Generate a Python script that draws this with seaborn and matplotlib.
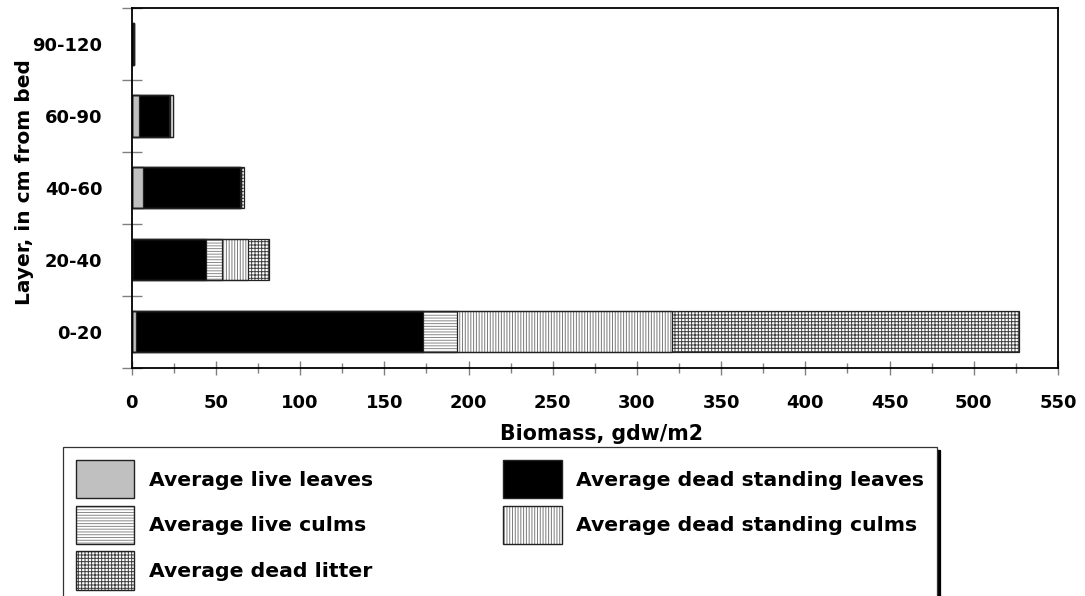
import numpy as np
import pandas as pd
import matplotlib.pyplot as plt
import seaborn as sns
from matplotlib.patches import Patch
from matplotlib.ticker import MultipleLocator, FixedLocator

# values (gdw/m2), top row first
layers = ['90-120', '60-90', '40-60', '20-40', '0-20']
live_leaves = [0.0, 4.3, 6.5, 0.3, 2.4]
dead_leaves = [1.5, 17.8, 57.8, 43.6, 170.3]
live_culms = [0.0, 0.8, 0.3, 9.7, 20.6]
dead_culms = [0.0, 1.8, 0.5, 15.7, 127.7]
dead_litter = [0.0, 0.0, 1.6, 12.2, 206.0]

series = ['Average live leaves', 'Average dead standing leaves',
          'Average live culms', 'Average dead standing culms',
          'Average dead litter']
fills = ['#c0c0c0', 'black', 'white', 'white', 'white']
hatches = [None, None, '------', '||||||', '+++++']
hatch_cols = ['#c0c0c0', 'black', '#8a8a8a', '#7a7a7a', '#404040']
edge_col = '#222222'

sns.set_theme(style='white')
plt.rcParams['font.family'] = ['DejaVu Sans']
plt.rcParams['font.weight'] = 'bold'
plt.rcParams['axes.labelweight'] = 'bold'
plt.rcParams['text.color'] = 'black'
plt.rcParams['axes.labelcolor'] = 'black'
plt.rcParams['hatch.linewidth'] = 0.7

df = pd.DataFrame({'layer': layers})
for name, vals in zip(series, [live_leaves, dead_leaves, live_culms, dead_culms, dead_litter]):
    df[name] = vals
cum = df[series].cumsum(axis=1)

fig = plt.figure(figsize=(10.85, 5.96), dpi=100)
ax = fig.add_axes([0.1214, 0.3826, 0.8537, 0.604])

# stacked bars: draw cumulative totals, biggest first
for i in reversed(range(len(series))):
    sns.barplot(x=cum[series[i]], y=df['layer'], order=layers, orient='h',
                color=fills[i], saturation=1, width=0.57, errorbar=None,
                hatch=hatches[i], edgecolor=hatch_cols[i], linewidth=0, ax=ax)
# outlines
for i in range(len(series)):
    sns.barplot(x=cum[series[i]], y=df['layer'], order=layers, orient='h',
                fill=False, color=edge_col, linewidth=0.9, width=0.57,
                errorbar=None, ax=ax)

ax.set_xlim(0, 550)
ax.set_ylim(4.5, -0.5)
ax.xaxis.set_major_locator(MultipleLocator(50))
ax.xaxis.set_minor_locator(MultipleLocator(25))
ax.yaxis.set_minor_locator(FixedLocator(np.arange(-0.5, 5, 1)))
ax.tick_params(axis='x', which='major', bottom=True, direction='inout', length=10,
               width=1, color='gray', labelcolor='black', pad=14, labelsize=13)
ax.tick_params(axis='x', which='minor', bottom=True, direction='inout', length=7,
               width=1, color='gray')
ax.tick_params(axis='y', which='major', left=True, length=0, pad=21,
               labelcolor='black', labelsize=13)
ax.tick_params(axis='y', which='minor', left=True, direction='inout', length=14,
               width=1, color='gray')
for s in ax.spines.values():
    s.set_visible(True)
    s.set_color('black')
    s.set_linewidth(1.3)

ax.set_xlabel('Biomass, gdw/m2', fontsize=14.8)
ax.set_ylabel('Layer, in cm from bed', fontsize=14.5)
ax.xaxis.set_label_coords(0.507, -0.156)
ax.yaxis.set_label_coords(-0.106, 0.517)

handles = []
for f, h, hc in zip(fills, hatches, hatch_cols):
    handles.append((Patch(facecolor=f, edgecolor=hc, hatch=h, linewidth=0),
                    Patch(facecolor='none', edgecolor=edge_col, linewidth=1)))
order = [0, 2, 4, 1, 3]
leg = fig.legend([handles[i] for i in order], [series[i] for i in order],
                 loc='upper left', bbox_to_anchor=(63 / 1085, 1 - 447 / 596),
                 ncol=2, fontsize=14.7, frameon=True, fancybox=False,
                 shadow={'color': 'black', 'alpha': 1}, edgecolor='#333333',
                 framealpha=1, borderaxespad=0, borderpad=0.65,
                 handlelength=2.85, handleheight=2.49, handletextpad=0.69,
                 labelspacing=0.37, columnspacing=6.4)
leg.get_frame().set_linewidth(0.9)

fig.savefig('out.png', dpi=100)
